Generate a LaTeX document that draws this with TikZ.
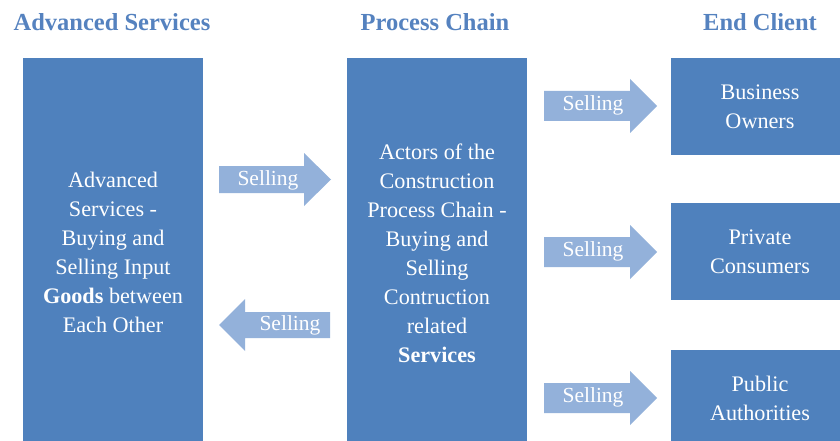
\documentclass[tikz,border=0pt]{standalone}
\usepackage{fontspec}
\setmainfont{Liberation Serif}
\definecolor{boxblue}{HTML}{4F81BD}
\definecolor{arrowblue}{HTML}{93B1DA}
\definecolor{titleblue}{HTML}{5582BF}
\begin{document}
\begin{tikzpicture}[x=1pt,y=-1pt,
  title/.style={text=titleblue,font=\fontsize{24.5}{28}\selectfont\bfseries,inner sep=0pt},
  panel/.style={fill=boxblue,draw=none,inner sep=0pt},
  paneltext/.style={text=white,align=center,font=\fontsize{22.2}{29}\selectfont,inner sep=0pt},
  arrowlabel/.style={text=white,font=\fontsize{21.5}{24}\selectfont,inner sep=0pt},
  sellarrow/.style={fill=arrowblue,draw=none}]
\useasboundingbox (0,0) rectangle (840,441);
\clip (0,0) rectangle (840,441);

% column headings
\node[title] (tadv) at (112,22) {Advanced Services};
\node[title] (tproc) at (435,22) {Process Chain};
\node[title] (tend) at (760,22) {End Client};

% main panels
\node[panel,minimum width=180pt,minimum height=388pt] (adv) at (113,252) {};
\node[paneltext] (advtxt) at (adv.center) {Advanced\\Services -\\Buying and\\Selling Input\\\textbf{Goods} between\\Each Other};
\node[panel,minimum width=180pt,minimum height=388pt] (proc) at (437,252) {};
\node[paneltext] (proctxt) at ([yshift=-1pt]proc.center) {Actors of the\\Construction\\Process Chain -\\Buying and\\Selling\\Contruction\\related\\\textbf{Services}};

% end clients
\node[panel,minimum width=178pt,minimum height=97pt] (bus) at (760,106.5) {};
\node[paneltext] at (bus.center) {Business\\Owners};
\node[panel,minimum width=178pt,minimum height=97pt] (priv) at (760,251.5) {};
\node[paneltext] at (priv.center) {Private\\Consumers};
\node[panel,minimum width=178pt,minimum height=97pt] (pub) at (760,398.5) {};
\node[paneltext] at (pub.center) {Public\\Authorities};

% selling arrows between the advanced services and the process chain
\fill[sellarrow] (219,166) -- (304,166) -- (304,153) -- (331,179.5) -- (304,206) -- (304,193) -- (219,193) -- cycle;
\node[arrowlabel] (s1) at (268,180) {Selling};
\fill[sellarrow] (330,312) -- (245,312) -- (245,299) -- (219,325) -- (245,351) -- (245,338) -- (330,338) -- cycle;
\node[arrowlabel] (s2) at (290,325) {Selling};

% selling arrows towards the end clients
\foreach \yc/\nm in {106/s3,252/s4,398/s5}{
  \fill[sellarrow] (544,\yc-15) -- (630,\yc-15) -- (630,\yc-27) -- (657,\yc) -- (630,\yc+27) -- (630,\yc+15) -- (544,\yc+15) -- cycle;
  \node[arrowlabel] (\nm) at (593,\yc-1) {Selling};
}
\end{tikzpicture}
\end{document}
